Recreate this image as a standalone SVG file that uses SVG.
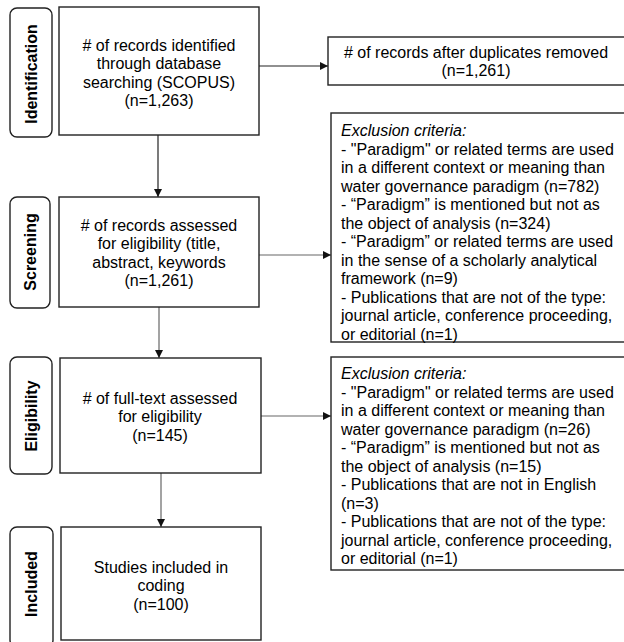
<svg xmlns="http://www.w3.org/2000/svg" width="624" height="642" viewBox="0 0 624 642">
<defs>
<style>
.box{fill:#fff;stroke:#222;stroke-width:1.4}
.lab{fill:#fff;stroke:#222;stroke-width:1.4}
.t{font-family:"Liberation Sans",Arial,sans-serif;font-size:16px;fill:#000}
.c{text-anchor:middle}
.b{font-weight:bold;text-anchor:middle;dominant-baseline:central}
.i{font-style:italic}
.con{fill:none;stroke:#222;stroke-width:1.2}
.con2{fill:none;stroke:#666;stroke-width:1.2}
</style>
<marker id="ah" viewBox="0 0 10 10" refX="10" refY="5" markerWidth="8" markerHeight="8" markerUnits="userSpaceOnUse" orient="auto">
<path d="M0,0 L10,5 L0,10 z" fill="#111"/>
</marker>
</defs>
<rect width="624" height="642" fill="#fff"/>

<g id="label-identification">
<rect class="lab" x="10" y="8" width="42" height="129" rx="7"/>
<text class="t b" transform="translate(31,74) rotate(-90)">Identification</text>
</g>
<g id="label-screening">
<rect class="lab" x="10" y="197" width="40" height="111" rx="7"/>
<text class="t b" transform="translate(30,252) rotate(-90)">Screening</text>
</g>
<g id="label-eligibility">
<rect class="lab" x="10" y="357" width="42" height="117" rx="7"/>
<text class="t b" transform="translate(31,416) rotate(-90)">Eligibility</text>
</g>
<g id="label-included">
<rect class="lab" x="10" y="527" width="43" height="120" rx="7"/>
<text class="t b" transform="translate(31,584) rotate(-90)">Included</text>
</g>

<g id="connectors">
<line class="con" x1="259" y1="66" x2="328" y2="66" marker-end="url(#ah)"/>
<line class="con" x1="158" y1="135" x2="158" y2="197" marker-end="url(#ah)"/>
<line class="con2" x1="259" y1="255" x2="331" y2="255" marker-end="url(#ah)"/>
<line class="con2" x1="159" y1="307" x2="159" y2="358" marker-end="url(#ah)"/>
<line class="con2" x1="261" y1="416" x2="331" y2="416" marker-end="url(#ah)"/>
<line class="con2" x1="161" y1="473" x2="161" y2="527" marker-end="url(#ah)"/>
</g>

<g id="box-identified">
<rect class="box" x="59" y="7" width="200" height="128"/>
<text class="t c" x="159" y="51"><tspan x="159">#&#160;of records identified</tspan><tspan x="159" dy="18.4">through database</tspan><tspan x="159" dy="18.4">searching (SCOPUS)</tspan><tspan x="159" dy="18.4">(n=1,263)</tspan></text>
</g>

<g id="box-duplicates">
<rect class="box" x="328" y="37" width="310" height="48"/>
<text class="t c" x="476" y="58"><tspan x="476">#&#160;of records after duplicates removed</tspan><tspan x="476" dy="18.4">(n=1,261)</tspan></text>
</g>

<g id="box-screened">
<rect class="box" x="59" y="197" width="200" height="110"/>
<text class="t c" x="159" y="231"><tspan x="159">#&#160;of records assessed</tspan><tspan x="159" dy="18.4">for eligibility (title,</tspan><tspan x="159" dy="18.4">abstract, keywords</tspan><tspan x="159" dy="18.4">(n=1,261)</tspan></text>
</g>

<g id="box-exclusion1">
<rect class="box" x="331" y="113" width="310" height="229"/>
<text class="t" x="341" y="136"><tspan x="341" class="i">Exclusion criteria:</tspan><tspan x="341" dy="18.5">- "Paradigm" or related terms are used</tspan><tspan x="341" dy="18.5">in a different context or meaning than</tspan><tspan x="341" dy="18.5">water governance paradigm (n=782)</tspan><tspan x="341" dy="18.5">- “Paradigm” is mentioned but not as</tspan><tspan x="341" dy="18.5">the object of analysis (n=324)</tspan><tspan x="341" dy="18.5">- “Paradigm” or related terms are used</tspan><tspan x="341" dy="18.5">in the sense of a scholarly analytical</tspan><tspan x="341" dy="18.5">framework (n=9)</tspan><tspan x="341" dy="18.5">- Publications that are not of the type:</tspan><tspan x="341" dy="18.5">journal article, conference proceeding,</tspan><tspan x="341" dy="18.5">or editorial (n=1)</tspan></text>
</g>

<g id="box-fulltext">
<rect class="box" x="60" y="358" width="201" height="115"/>
<text class="t c" x="160" y="404"><tspan x="160">#&#160;of full-text assessed</tspan><tspan x="160" dy="18.4">for eligibility</tspan><tspan x="160" dy="18.4">(n=145)</tspan></text>
</g>

<g id="box-exclusion2">
<rect class="box" x="331" y="357" width="310" height="213"/>
<text class="t" x="341" y="379"><tspan x="341" class="i">Exclusion criteria:</tspan><tspan x="341" dy="18.5">- "Paradigm" or related terms are used</tspan><tspan x="341" dy="18.5">in a different context or meaning than</tspan><tspan x="341" dy="18.5">water governance paradigm (n=26)</tspan><tspan x="341" dy="18.5">- “Paradigm” is mentioned but not as</tspan><tspan x="341" dy="18.5">the object of analysis (n=15)</tspan><tspan x="341" dy="18.5">- Publications that are not in English</tspan><tspan x="341" dy="18.5">(n=3)</tspan><tspan x="341" dy="18.5">- Publications that are not of the type:</tspan><tspan x="341" dy="18.5">journal article, conference proceeding,</tspan><tspan x="341" dy="18.5">or editorial (n=1)</tspan></text>
</g>

<g id="box-included">
<rect class="box" x="61" y="527" width="200" height="113"/>
<text class="t c" x="161" y="573"><tspan x="161">Studies included in</tspan><tspan x="161" dy="18.4">coding</tspan><tspan x="161" dy="18.4">(n=100)</tspan></text>
</g>
</svg>
